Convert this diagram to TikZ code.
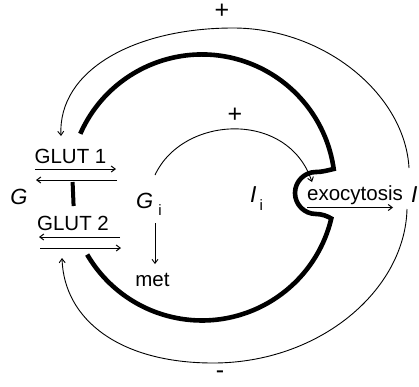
\documentclass[tikz,border=0pt]{standalone}
\usepackage{fontspec}
\setmainfont{Liberation Sans}
\usetikzlibrary{arrows.meta}
\begin{document}
\begin{tikzpicture}[x=1pt,y=-1pt,
  thinln/.style={line width=0.9pt},
  wall/.style={line width=4.6pt},
  tipped/.style={-{Straight Barb[length=4pt,width=6pt]}},
  lbl/.style={inner sep=0pt, font=\fontsize{20.5}{22}\selectfont},
  big/.style={inner sep=0pt, font=\fontsize{22}{24}\selectfont\itshape},
  sign/.style={inner sep=0pt, font=\fontsize{25}{27}\selectfont}]
\useasboundingbox (0,0) rectangle (419,386);

% cell membrane (thick)
\draw[wall] (80.3,133.8) arc[start angle=203.8, end angle=352, radius=133]
  .. controls (327,170.5) and (322,172) .. (316,172)
  arc[start angle=-90, end angle=-270, radius=21]
  .. controls (322,214) and (327,216) .. (331.3,218.5)
  arc[start angle=13.5, end angle=149.7, radius=133];
\draw[line width=4pt] (72.6,182) -- (73.6,206);

% labels
\node[lbl, anchor=base] (glut1) at (70.5,163) {GLUT 1};
\node[lbl, anchor=base] (glut2) at (73,230) {GLUT 2};
\node[big, anchor=base] (G) at (19,204) {G};
\node[inner sep=0pt, anchor=base west] (Gi) at (136,208)
  {\fontsize{22}{24}\selectfont\textit{G}\hspace{5pt}\raisebox{-7pt}{\fontsize{15}{16}\selectfont i}};
\node[inner sep=0pt, anchor=base west] (Ii) at (250,202)
  {\fontsize{23}{24}\selectfont\textit{I}\hspace{3pt}\raisebox{-8pt}{\fontsize{15}{16}\selectfont i}};
\node[lbl, anchor=base] (exo) at (355,200) {exocytosis};
\node[big, anchor=base west, font=\fontsize{23}{24}\selectfont\itshape] (I) at (411,202) {I};
\node[lbl, anchor=base] (met) at (152.5,286) {met};
\node[sign] (plusTop) at (222,11) {+};
\node[sign] (minusBot) at (220,375) {-};
\node[sign] (plusIn) at (235,115) {+};

% GLUT transport arrows
\coordinate (g1l) at (35,169);  \coordinate (g1r) at (116,169);
\coordinate (g1l2) at (36,180); \coordinate (g1r2) at (117,180);
\coordinate (g2l) at (39,237);  \coordinate (g2r) at (120,237);
\coordinate (g2l2) at (40,248); \coordinate (g2r2) at (121,248);
\draw[thinln, line width=1pt, tipped] (g1l) -- (g1r);
\draw[thinln, line width=1pt, tipped] (g1r2) -- (g1l2);
\draw[thinln, line width=1pt, tipped] (g2r) -- (g2l);
\draw[thinln, line width=1pt, tipped] (g2l2) -- (g2r2);

% metabolism
\coordinate (metS) at (155,223); \coordinate (metE) at (155,264);
\draw[thinln, tipped] (metS) -- (metE);

% exocytosis arrow
\coordinate (exS) at (307,207.5); \coordinate (exE) at (393,207.5);
\draw[thinln, line width=1pt, tipped] (exS) -- (exE);

% inner positive effect
\coordinate (inS) at (155,175); \coordinate (inE) at (312,182);
\draw[thinln, tipped] (inS) .. controls (183,115) and (288,110) .. (inE);

% outer feedback loops
\coordinate (Itop) at (409,168); \coordinate (Ibot) at (407,209);
\coordinate (fbTop) at (61,136); \coordinate (fbBot) at (62,258);
\draw[thinln, tipped] (Itop) .. controls (405,95) and (325,28) .. (233,28)
  .. controls (135,28) and (58,70) .. (fbTop);
\draw[thinln, tipped] (Ibot) .. controls (405,290) and (320,363) .. (213,363)
  .. controls (120,363) and (64,320) .. (fbBot);
\end{tikzpicture}
\end{document}
